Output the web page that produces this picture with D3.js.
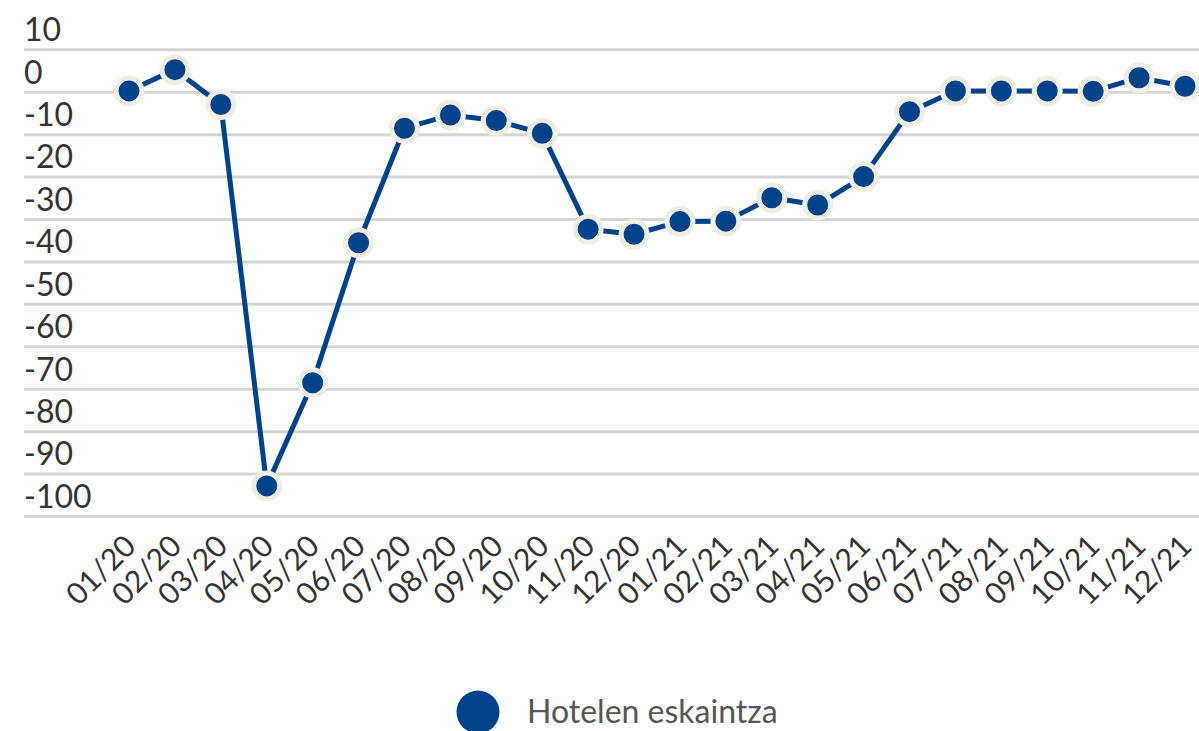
<!DOCTYPE html>
<html>
<head>
<meta charset="utf-8">
<script src="https://cdn.jsdelivr.net/npm/d3@7"></script>
<style>
  html, body { margin: 0; padding: 0; background: #fff; }
  svg { display: block; }
  text { font-family: Lato, "Open Sans", sans-serif; }
</style>
</head>
<body>
<svg id="chart" width="1199" height="731"></svg>
<script>
const categories = ["01/20","02/20","03/20","04/20","05/20","06/20","07/20","08/20","09/20","10/20","11/20","12/20",
                    "01/21","02/21","03/21","04/21","05/21","06/21","07/21","08/21","09/21","10/21","11/21","12/21"];
const seriesName = "Hotelen eskaintza";
const values = [0.2, 5.2, -3.0, -92.9, -68.6, -35.6, -8.6, -5.5, -6.8, -9.8, -32.4, -33.6,
                -30.6, -30.5, -25.0, -26.7, -20.0, -4.7, 0.2, 0.2, 0.2, 0.1, 3.3, 1.3];
const yTicks = [10, 0, -10, -20, -30, -40, -50, -60, -70, -80, -90, -100];

const svg = d3.select("#chart");
const W = 1199;
const blue = "#00428a";

const x = d3.scalePoint().domain(categories).range([129, 1185]);
const y = d3.scaleLinear().domain([10, -100]).range([49.3, 516]);
const step = y(0) - y(10);

// gridlines
const grid = svg.append("g")
  .attr("transform", "translate(24,0)")
  .call(d3.axisRight(y).tickValues(yTicks).tickSize(W - 24).tickFormat(""));
grid.select(".domain").remove();
grid.selectAll(".tick line").attr("stroke", "#d4d4d4").attr("stroke-width", 3);

// y labels (sit above their gridline)
const yAxis = svg.append("g")
  .attr("transform", "translate(24,0)")
  .call(d3.axisRight(y).tickValues(yTicks).tickSize(0).tickPadding(0).tickFormat(d => String(d)));
yAxis.select(".domain").remove();
yAxis.selectAll(".tick text")
  .attr("x", 0).attr("dy", null)
  .attr("y", -step / 2)
  .attr("dominant-baseline", "central")
  .attr("text-anchor", "start")
  .attr("fill", "#333").attr("font-size", 32)
  .style("font-family", "Lato, sans-serif");

// x labels
const xAxis = svg.append("g")
  .attr("transform", "translate(0,548)")
  .call(d3.axisBottom(x).tickSize(0).tickPadding(0));
xAxis.select(".domain").remove();
xAxis.selectAll(".tick text")
  .attr("y", 0).attr("dy", null).attr("x", 0)
  .attr("text-anchor", "end")
  .attr("transform", "translate(8,0) rotate(-45)")
  .attr("fill", "#333").attr("font-size", 30)
  .style("font-family", "Lato, sans-serif");

// line
const line = d3.line().x((d, i) => x(categories[i])).y(d => y(d));
svg.append("path")
  .datum(values)
  .attr("d", line)
  .attr("fill", "none")
  .attr("stroke", blue)
  .attr("stroke-width", 5)
  .attr("stroke-linejoin", "round");

// markers
svg.append("g").selectAll("circle")
  .data(values)
  .join("circle")
  .attr("cx", (d, i) => x(categories[i]))
  .attr("cy", d => y(d))
  .attr("r", 13)
  .attr("fill", blue)
  .attr("stroke", "#eeeee2")
  .attr("stroke-width", 5);

// legend
const legend = svg.append("g");
legend.append("circle").attr("cx", 478).attr("cy", 712).attr("r", 21.5).attr("fill", blue);
legend.append("text").attr("x", 527).attr("y", 723)
  .attr("fill", "#555").attr("font-size", 32)
  .text(seriesName);
</script>
</body>
</html>
